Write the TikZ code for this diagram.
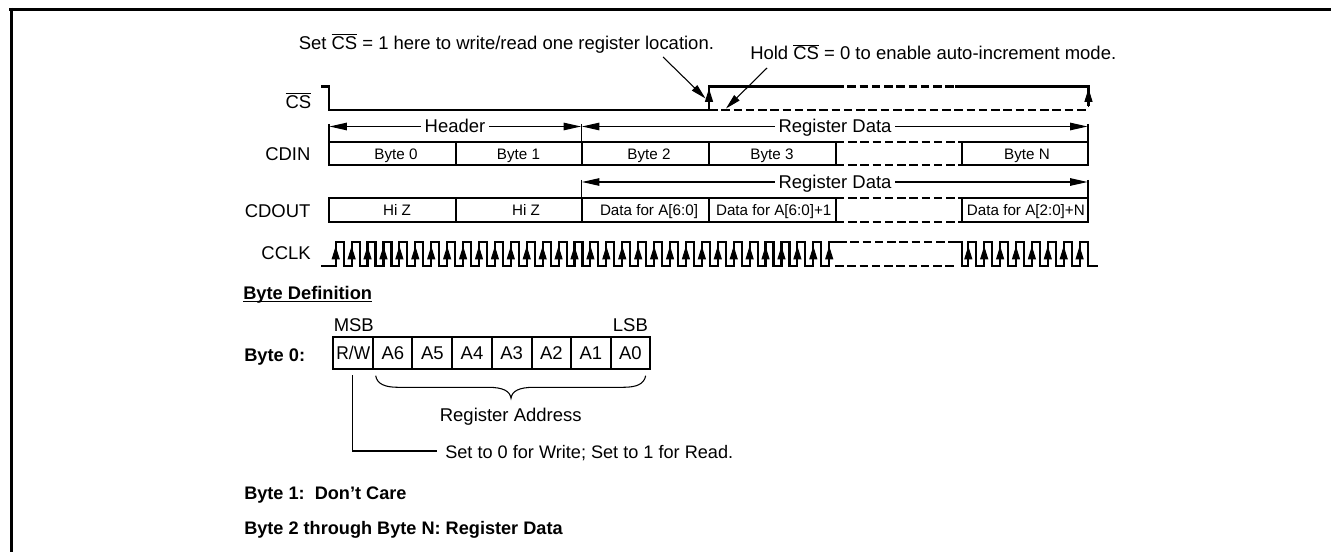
\documentclass[tikz,border=0pt]{standalone}
\usepackage{fontspec}
\setmainfont{Liberation Sans}
\usetikzlibrary{arrows.meta}
\newcommand{\ovbar}[1]{$\overline{\hbox{#1}}$}
\tikzset{
  big/.style={font=\fontsize{13.85}{16}\selectfont,inner sep=0pt,anchor=base},
  bigl/.style={big,anchor=base west},
  bigr/.style={big,anchor=base east},
  gapped/.style={big,inner xsep=2.5pt},
  small/.style={font=\fontsize{11.4}{14}\selectfont,inner sep=0pt,anchor=base},
  boldt/.style={font=\fontsize{13.7}{16}\selectfont\bfseries,inner sep=0pt,anchor=base west},
  boldn/.style={boldt,font=\fontsize{13.6}{16}\selectfont\bfseries},
  notet/.style={bigl,font=\fontsize{13.6}{16}\selectfont},
  heavy/.style={line width=1.8pt},
  boxline/.style={line width=1.6pt},
  thin line/.style={line width=.8pt},
  dashline/.style={dash pattern=on 6.4pt off 2.8pt},
  head/.style={-{Stealth[length=13pt,width=5.6pt,inset=0pt]},thin line},
  rhead/.style={{Stealth[length=13pt,width=5.6pt,inset=0pt]}-,thin line},
  uphead/.style={-{Stealth[length=10pt,width=6pt,inset=0pt]},line width=.8pt},
  callout/.style={-{Stealth[length=11.5pt,width=5.6pt,inset=0pt]},thin line},
}
\begin{document}
\begin{tikzpicture}[x=.75pt,y=-.75pt,line join=miter]
\useasboundingbox (0,0) rectangle (1331,552);
% frame
\draw[line width=2.25pt] (1331,9.5) -- (9,9.5);
\draw[line width=2.25pt] (11.5,8) -- (11.5,552);

% annotations on top
\node[bigl] (setcs) at (298.5,49.3) {Set \ovbar{CS} = 1 here to write/read one register location.};
\node[bigl] (holdcs) at (750,60) {Hold \ovbar{CS} = 0 to enable auto-increment mode.};
\coordinate (setfrom) at (663,57);
\coordinate (setto) at (705.5,98.5);
\coordinate (holdfrom) at (767,68);
\coordinate (holdto) at (726,108.5);
\draw[callout] (setfrom) -- (setto);
\draw[callout] (holdfrom) -- (holdto);

% signal labels
\node[bigr] (lcs) at (311.5,108.3) {\ovbar{CS}};
\node[bigr] (lcdin) at (310.7,160.7) {CDIN};
\node[bigr] (lcdout) at (310.7,217.3) {CDOUT};
\node[bigr] (lcclk) at (311,260) {CCLK};

% CS waveform
\draw[heavy] (321,86.5) -- (329,86.5) -- (329,110) -- (709,110) -- (709,86.5) -- (835,86.5);
\draw[heavy,dashline] (835,86.5) -- (955,86.5);
\draw[heavy] (955,86.5) -- (1088.5,86.5) -- (1088.5,106);
\draw[heavy,dashline] (709,110) -- (1088,110);
\coordinate (csa0) at (709,107);
\coordinate (csa1) at (709,88.5);
\coordinate (csb0) at (1088.5,107);
\coordinate (csb1) at (1088.5,88.5);
\draw[uphead] (csa0) -- (csa1);
\draw[uphead] (csb0) -- (csb1);

% Header / Register Data dimension lines
\node[gapped] (hdr) at (455,133) {Header};
\node[gapped] (rd1) at (835,133) {Register Data};
\node[gapped] (rd2) at (835,189) {Register Data};
\coordinate (t1a) at (329,124);
\coordinate (t1b) at (329,142);
\coordinate (t2a) at (581.5,124);
\coordinate (t2b) at (581.5,142);
\coordinate (t3a) at (1088,124);
\coordinate (t3b) at (1088,142);
\coordinate (t4a) at (581.5,180);
\coordinate (t4b) at (581.5,198);
\coordinate (t5a) at (1088,180);
\coordinate (t5b) at (1088,198);
\foreach \p in {1,...,5} \draw[thin line] (t\p a) -- (t\p b);
\coordinate (d1) at (329.5,126.5);
\coordinate (d2) at (581,126.5);
\coordinate (d3) at (582,126.5);
\coordinate (d4) at (1087.5,126.5);
\coordinate (d5) at (582,182);
\coordinate (d6) at (1087.5,182);
\draw[rhead] (d1) -- (hdr.west |- d1);
\draw[head] (hdr.east |- d2) -- (d2);
\draw[rhead] (d3) -- (rd1.west |- d3);
\draw[head] (rd1.east |- d4) -- (d4);
\draw[rhead] (d5) -- (rd2.west |- d5);
\draw[head] (rd2.east |- d6) -- (d6);

% CDIN
\draw[boxline] (835.7,142) -- (329,142) -- (329,165) -- (835.7,165);
\draw[boxline,dashline] (835.7,142) -- (962,142);
\draw[boxline,dashline] (835.7,165) -- (962,165);
\draw[boxline] (962,142) -- (1088,142) -- (1088,165) -- (962,165);
\foreach \x in {455.7,581.7,709,835.7,962} \draw[boxline] (\x,142) -- (\x,165);
\node[small] (b0) at (396,159.3) {Byte 0};
\node[small] (b1) at (518.5,159.3) {Byte 1};
\node[small] (b2) at (649,159.3) {Byte 2};
\node[small] (b3) at (772,159.3) {Byte 3};
\node[small] (bn) at (1027,159.3) {Byte N};

% CDOUT
\draw[boxline] (835.7,198) -- (329,198) -- (329,222) -- (835.7,222);
\draw[boxline,dashline] (835.7,198) -- (962,198);
\draw[boxline,dashline] (835.7,222) -- (962,222);
\draw[boxline] (962,198) -- (1088,198) -- (1088,222) -- (962,222);
\foreach \x in {455.7,581.7,709,835.7,962} \draw[boxline] (\x,198) -- (\x,222);
\node[small] (hz0) at (397,216) {Hi Z};
\node[small] (hz1) at (526,216) {Hi Z};
\node[small] (da0) at (649,216) {Data for A[6:0]};
\node[small] (da1) at (773.7,216) {Data for A[6:0]+1};
\node[small,anchor=base west] (dan) at (966.7,216) {Data for A[2:0]+N};

% CCLK
\draw[boxline] (321,266)
  \foreach \k in {0,...,30} { -- (335.7+15.92*\k,266) -- (335.7+15.92*\k,241.7) -- (343.7+15.92*\k,241.7) -- (343.7+15.92*\k,266) }
  -- (829.2,266) -- (829.2,241.7) -- (838,241.7);
\draw[boxline,dashline] (838,241.7) -- (957,241.7);
\draw[boxline,dashline] (835,266) -- (955,266);
\draw[boxline] (957,241.7) -- (962,241.7) -- (962,266)
  \foreach \k in {0,...,6} { -- (968.3+15.9*\k,266) -- (968.3+15.9*\k,241.7) -- (976.3+15.9*\k,241.7) -- (976.3+15.9*\k,266) }
  -- (1080,266) -- (1080,241.7) -- (1088,241.7) -- (1088,266) -- (1097.7,266);
\foreach \k in {0,...,31} \draw[uphead] (335.7+15.92*\k,264) -- (335.7+15.92*\k,246);
\foreach \k in {0,...,7} \draw[uphead] (968.3+15.9*\k,264) -- (968.3+15.9*\k,246);

% Byte definition
\node[boldt] (bd) at (243,299.3) {Byte Definition};
\draw[line width=1.1pt] (bd.base west |- 0,301.5) -- (bd.base east |- 0,301.5);
\node[boldt] (b0l) at (244,361) {Byte 0:};
\node[bigl] (msb) at (333.5,331.7) {MSB};
\node[bigl] (lsb) at (612.7,331.7) {LSB};
\draw[boxline] (333.3,337) rectangle (650,369);
\foreach \x in {373.3,412.3,452.3,491.7,531.7,571,610.7} \draw[boxline] (\x,337) -- (\x,369);
\node[big,xscale=.94] (rw) at (353.3,359.3) {R/W};
\node[big] (a6) at (392.8,359.3) {A6};
\node[big] (a5) at (432.3,359.3) {A5};
\node[big] (a4) at (472,359.3) {A4};
\node[big] (a3) at (511.7,359.3) {A3};
\node[big] (a2) at (551.3,359.3) {A2};
\node[big] (a1) at (590.8,359.3) {A1};
\node[big] (a0) at (630.3,359.3) {A0};

% brace
\draw[thin line] (375.7,375.7) .. controls (377,384) and (385,387.3) .. (398,387.3) -- (488,387.3)
  .. controls (503,387.3) and (510,391) .. (511,398.3)
  .. controls (512,391) and (519,387.3) .. (534,387.3) -- (623,387.3)
  .. controls (637,387.3) and (644,384) .. (645.7,375.7);
\node[big] (ra) at (510.7,421) {Register Address};

% R/W note
\node[notet] (note) at (445,458) {Set to 0 for Write; Set to 1 for Read.};
\coordinate (rwtop) at (352.7,375);
\coordinate (rwbot) at (352.7,451);
\coordinate (rwend) at (436.5,451);
\draw[thin line] (rwtop) -- (rwbot) -- (rwend);

\node[boldn] (b1l) at (244,499.3) {Byte 1:\ \ Don’t Care};
\node[boldn] (b2l) at (244,534) {Byte 2 through Byte N: Register Data};
\end{tikzpicture}
\end{document}
